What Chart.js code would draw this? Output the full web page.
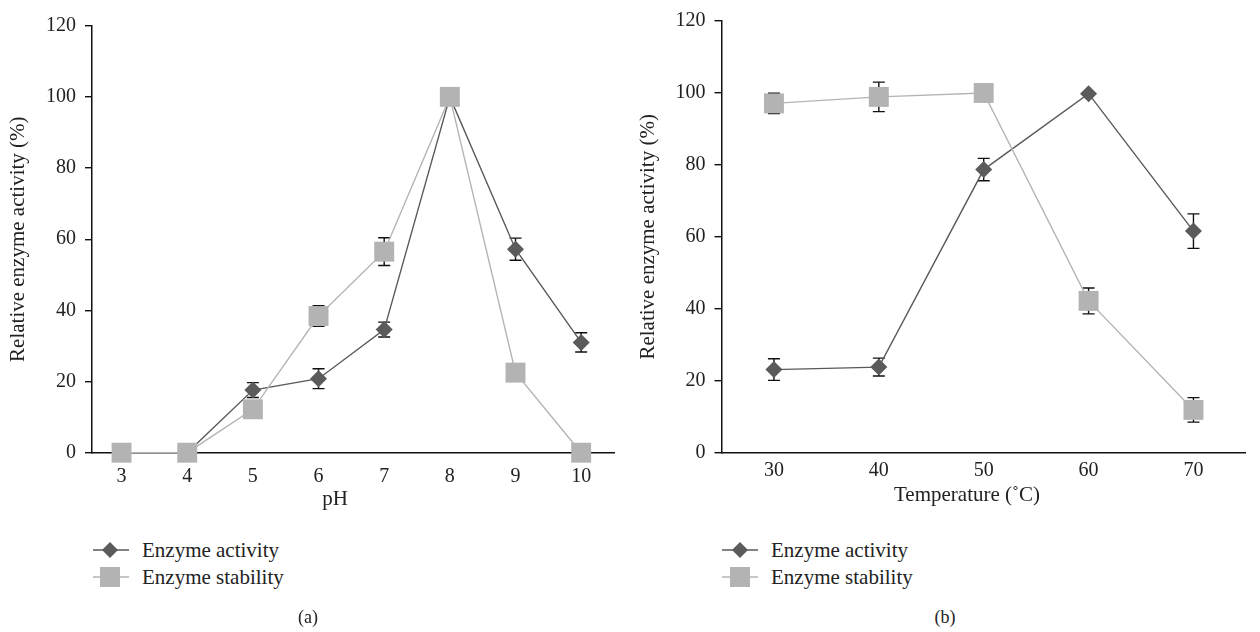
<!DOCTYPE html>
<html>
<head>
<meta charset="utf-8">
<script src="https://cdn.jsdelivr.net/npm/chart.js@4.4.1/dist/chart.umd.min.js"></script>
<style>
  body { margin: 0; background: #fff; }
  #wrap { position: relative; width: 1260px; height: 632px; font-family: "Liberation Serif", "DejaVu Serif", serif; color: #222; }
  canvas { position: absolute; top: 0; }
  .lbl { position: absolute; font-size: 21px; white-space: nowrap; transform: translate(-50%, -50%); }
  .leg { position: absolute; font-size: 21px; white-space: nowrap; transform: translateY(-50%); }
  .sym { position: absolute; }
</style>
</head>
<body>
<div id="wrap">
  <canvas id="chartA" width="630" height="520" style="left:0"></canvas>
  <canvas id="chartB" width="630" height="520" style="left:630px"></canvas>

  <div class="lbl" style="left:335px; top:498px">pH</div>
  <div class="lbl" style="left:967px; top:494px">Temperature (˚C)</div>

  <svg class="sym" style="left:93px; top:540px" width="36" height="20"><line x1="0" y1="10" x2="36" y2="10" stroke="#5a5a5a" stroke-width="1.4"/><polygon points="17,2 25,10 17,18 9,10" fill="#5b5b5b"/></svg>
  <div class="leg" style="left:142px; top:550px">Enzyme activity</div>
  <svg class="sym" style="left:93px; top:567px" width="36" height="20"><line x1="0" y1="10" x2="36" y2="10" stroke="#b4b4b4" stroke-width="1.4"/><rect x="7" y="0" width="20" height="20" fill="#b3b3b3"/></svg>
  <div class="leg" style="left:142px; top:577px">Enzyme stability</div>

  <svg class="sym" style="left:722px; top:540px" width="36" height="20"><line x1="0" y1="10" x2="36" y2="10" stroke="#5a5a5a" stroke-width="1.4"/><polygon points="18,2 26,10 18,18 10,10" fill="#5b5b5b"/></svg>
  <div class="leg" style="left:771px; top:550px">Enzyme activity</div>
  <svg class="sym" style="left:722px; top:567px" width="36" height="20"><line x1="0" y1="10" x2="36" y2="10" stroke="#b4b4b4" stroke-width="1.4"/><rect x="8" y="0" width="20" height="20" fill="#b3b3b3"/></svg>
  <div class="leg" style="left:771px; top:577px">Enzyme stability</div>

  <div class="lbl" style="left:308px; top:617px; font-size:18px">(a)</div>
  <div class="lbl" style="left:945px; top:617px; font-size:18px">(b)</div>
</div>

<script>
// panel (a): pH
const phValues = [3, 4, 5, 6, 7, 8, 9, 10];
const phActivity = [0, 0, 17.6, 20.8, 34.6, 100, 57.2, 31.0];
const phActivityErr = [0, 0, 2.1, 2.8, 2.1, 0.4, 3.1, 2.7];
const phStability = [0, 0, 12.2, 38.4, 56.5, 100, 22.5, 0];
const phStabilityErr = [0, 0, 0, 2.9, 3.9, 0, 0, 0];

// panel (b): temperature
const tempValues = [30, 40, 50, 60, 70];
const tempActivity = [23.1, 23.8, 78.7, 99.8, 61.6];
const tempActivityErr = [3.0, 2.5, 3.1, 0, 4.8];
const tempStability = [97.1, 98.9, 100, 42.2, 11.9];
const tempStabilityErr = [2.8, 4.1, 0, 3.6, 3.4];

const yTicks = [0, 20, 40, 60, 80, 100, 120];

const FONT = '"Liberation Serif", "DejaVu Serif", serif';

// error bars drawn under lines and markers
const errorBars = {
  id: 'errorBars',
  beforeDatasetsDraw(chart) {
    const { ctx, scales: { x, y } } = chart;
    ctx.save();
    ctx.strokeStyle = '#111';
    ctx.lineWidth = 1.4;
    chart.data.datasets.forEach(ds => {
      ds.data.forEach((p, i) => {
        const e = ds.errors[i];
        if (!e) return;
        const px = x.getPixelForValue(p.x);
        const top = y.getPixelForValue(p.y + e);
        const bot = y.getPixelForValue(p.y - e);
        ctx.beginPath();
        ctx.moveTo(px, top); ctx.lineTo(px, bot);
        ctx.moveTo(px - 6, top); ctx.lineTo(px + 6, top);
        ctx.moveTo(px - 6, bot); ctx.lineTo(px + 6, bot);
        ctx.stroke();
      });
    });
    ctx.restore();
  }
};

function pts(xs, ys) {
  return xs.map((v, i) => ({ x: v, y: ys[i] }));
}

function makeChart(id, xs, act, actErr, stab, stabErr, o) {
  return new Chart(document.getElementById(id), {
    type: 'line',
    data: {
      datasets: [{
        label: 'Enzyme activity',
        data: pts(xs, act),
        errors: actErr,
        borderColor: '#5a5a5a',
        borderWidth: 1.4,
        pointStyle: 'rectRot',
        pointRadius: 8.5,
        pointBackgroundColor: '#5b5b5b',
        pointBorderWidth: 0,
        order: 2,
        clip: false
      }, {
        label: 'Enzyme stability',
        data: pts(xs, stab),
        errors: stabErr,
        borderColor: '#b4b4b4',
        borderWidth: 1.4,
        pointStyle: 'rect',
        pointRadius: 14.1,
        pointBackgroundColor: '#b3b3b3',
        pointBorderWidth: 0,
        order: 1,
        clip: false
      }]
    },
    options: {
      responsive: false,
      animation: false,
      layout: { padding: { left: 0, top: o.top, right: o.right, bottom: 0 } },
      plugins: { legend: { display: false }, tooltip: { enabled: false } },
      elements: { line: { tension: 0 } },
      scales: {
        x: {
          type: 'linear',
          min: o.xmin,
          max: o.xmax,
          afterBuildTicks: s => { s.ticks = xs.map(v => ({ value: v })); },
          afterFit: s => { s.height = 520 - 452.7; },
          grid: { drawOnChartArea: false, drawTicks: false },
          border: { display: true, color: '#111', width: 1.5 },
          ticks: { padding: o.xpad, color: '#222', font: { family: FONT, size: 20 } }
        },
        y: {
          min: 0,
          max: 120,
          afterBuildTicks: s => { s.ticks = yTicks.map(v => ({ value: v })); },
          afterFit: s => { s.width = o.yw; },
          grid: { drawOnChartArea: false, drawTicks: true, tickLength: 7, color: '#111', lineWidth: 1.4 },
          border: { display: true, color: '#111', width: 1.5 },
          ticks: { padding: 9, color: '#222', font: { family: FONT, size: 20 } },
          title: {
            display: true,
            text: 'Relative enzyme activity (%)',
            color: '#222',
            font: { family: FONT, size: 21 },
            padding: { top: 6, bottom: 0 }
          }
        }
      }
    },
    plugins: [errorBars]
  });
}

makeChart('chartA', phValues, phActivity, phActivityErr, phStability, phStabilityErr,
  { top: 25.7, right: 16, yw: 92, xmin: 2.55, xmax: 10.5, xpad: 12.5 });
makeChart('chartB', tempValues, tempActivity, tempActivityErr, tempStability, tempStabilityErr,
  { top: 15, right: 3.3, yw: 91.5, xmin: 25, xmax: 75, xpad: 6.5 });
</script>
</body>
</html>
